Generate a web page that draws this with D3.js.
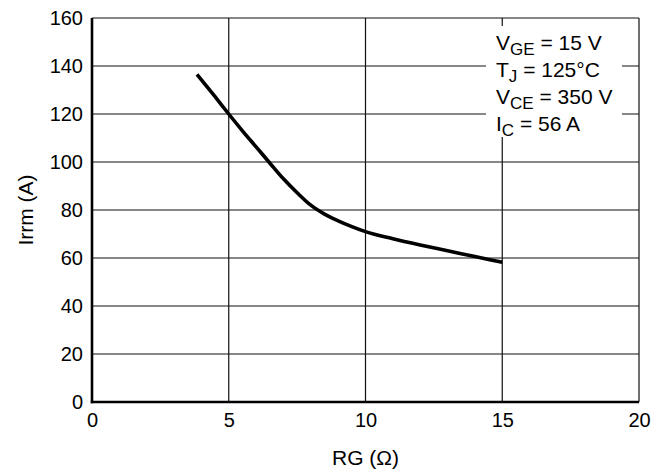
<!DOCTYPE html>
<html>
<head>
<meta charset="utf-8">
<script src="https://cdn.jsdelivr.net/npm/d3@7"></script>
<style>
  html, body { margin: 0; padding: 0; background: #fff; }
  svg text { font-family: "Liberation Sans", Arial, sans-serif; fill: #000; }
</style>
</head>
<body>
<svg id="chart" width="663" height="476"></svg>
<script>
// Gate resistance (ohm)
const rg = [3.84, 4.5, 5, 5.5, 6, 6.5, 7, 7.5, 8, 8.5, 9, 9.5, 10, 11, 12, 13, 14, 15];
// Peak reverse recovery current (A)
const irrm = [136.5, 127.2, 120, 113, 106.3, 99.6, 93, 87.2, 82, 78.3, 75.5, 73.1, 71, 68, 65.4, 63, 60.6, 58.2];

const xTicks = [0, 5, 10, 15, 20];
const yTicks = [0, 20, 40, 60, 80, 100, 120, 140, 160];

const conditions = [
  { main: "V", sub: "GE", rest: " = 15 V" },
  { main: "T", sub: "J", rest: " = 125\u00B0C" },
  { main: "V", sub: "CE", rest: " = 350 V" },
  { main: "I", sub: "C", rest: " = 56 A" }
];

const svg = d3.select("#chart");
const m = { left: 92, right: 24, top: 18, bottom: 74 };
const W = 663, H = 476;

const x = d3.scaleLinear().domain([0, 20]).range([m.left, W - m.right]);
const y = d3.scaleLinear().domain([0, 160]).range([H - m.bottom, m.top]);

// grid
const grid = svg.append("g");
grid.selectAll("line.h").data(yTicks).join("line")
  .attr("x1", x(0)).attr("x2", x(20))
  .attr("y1", d => y(d)).attr("y2", d => y(d))
  .attr("stroke", "#111").attr("stroke-width", 1.2);
grid.selectAll("line.v").data(xTicks).join("line")
  .attr("y1", y(0)).attr("y2", y(160))
  .attr("x1", d => x(d)).attr("x2", d => x(d))
  .attr("stroke", "#111").attr("stroke-width", 1.2);

// conditions box
const box = svg.append("g");
box.append("rect")
  .attr("x", 486).attr("y", 26).attr("width", 136).attr("height", 111)
  .attr("fill", "#fff");
const lines = box.selectAll("text").data(conditions).join("text")
  .attr("x", 496)
  .attr("y", (d, i) => 50 + i * 27)
  .attr("font-size", 21);
lines.append("tspan").text(d => d.main);
lines.append("tspan").attr("font-size", 17).attr("dy", 5).text(d => d.sub);
lines.append("tspan").attr("dy", -5).text(d => d.rest);

// axes
const xAxis = d3.axisBottom(x).tickValues(xTicks).tickSize(0).tickPadding(11);
const yAxis = d3.axisLeft(y).tickValues(yTicks).tickSize(0).tickPadding(9);

const gx = svg.append("g").attr("transform", `translate(0,${y(0)})`).call(xAxis);
gx.select(".domain").remove();
gx.selectAll("text").attr("font-size", 20).attr("font-family", null);

const gy = svg.append("g").attr("transform", `translate(${x(0)},0)`).call(yAxis);
gy.select(".domain").remove();
gy.selectAll("text").attr("font-size", 20).attr("font-family", null);

svg.append("line")
  .attr("x1", x(0)).attr("x2", x(0)).attr("y1", y(160)).attr("y2", y(0) + 1.2)
  .attr("stroke", "#000").attr("stroke-width", 2.6);
svg.append("line")
  .attr("x1", x(0) - 1.2).attr("x2", x(20)).attr("y1", y(0)).attr("y2", y(0))
  .attr("stroke", "#000").attr("stroke-width", 2.6);

// curve
const line = d3.line().x((d, i) => x(rg[i])).y(d => y(d)).curve(d3.curveMonotoneX);
svg.append("path")
  .attr("d", line(irrm))
  .attr("fill", "none").attr("stroke", "#000").attr("stroke-width", 3.6);

// axis titles
svg.append("text")
  .attr("x", x(10)).attr("y", 465)
  .attr("text-anchor", "middle").attr("font-size", 21)
  .text("RG (\u03A9)");
svg.append("text")
  .attr("transform", `translate(33,${y(80)}) rotate(-90)`)
  .attr("text-anchor", "middle").attr("font-size", 21)
  .text("Irrm (A)");
</script>
</body>
</html>
